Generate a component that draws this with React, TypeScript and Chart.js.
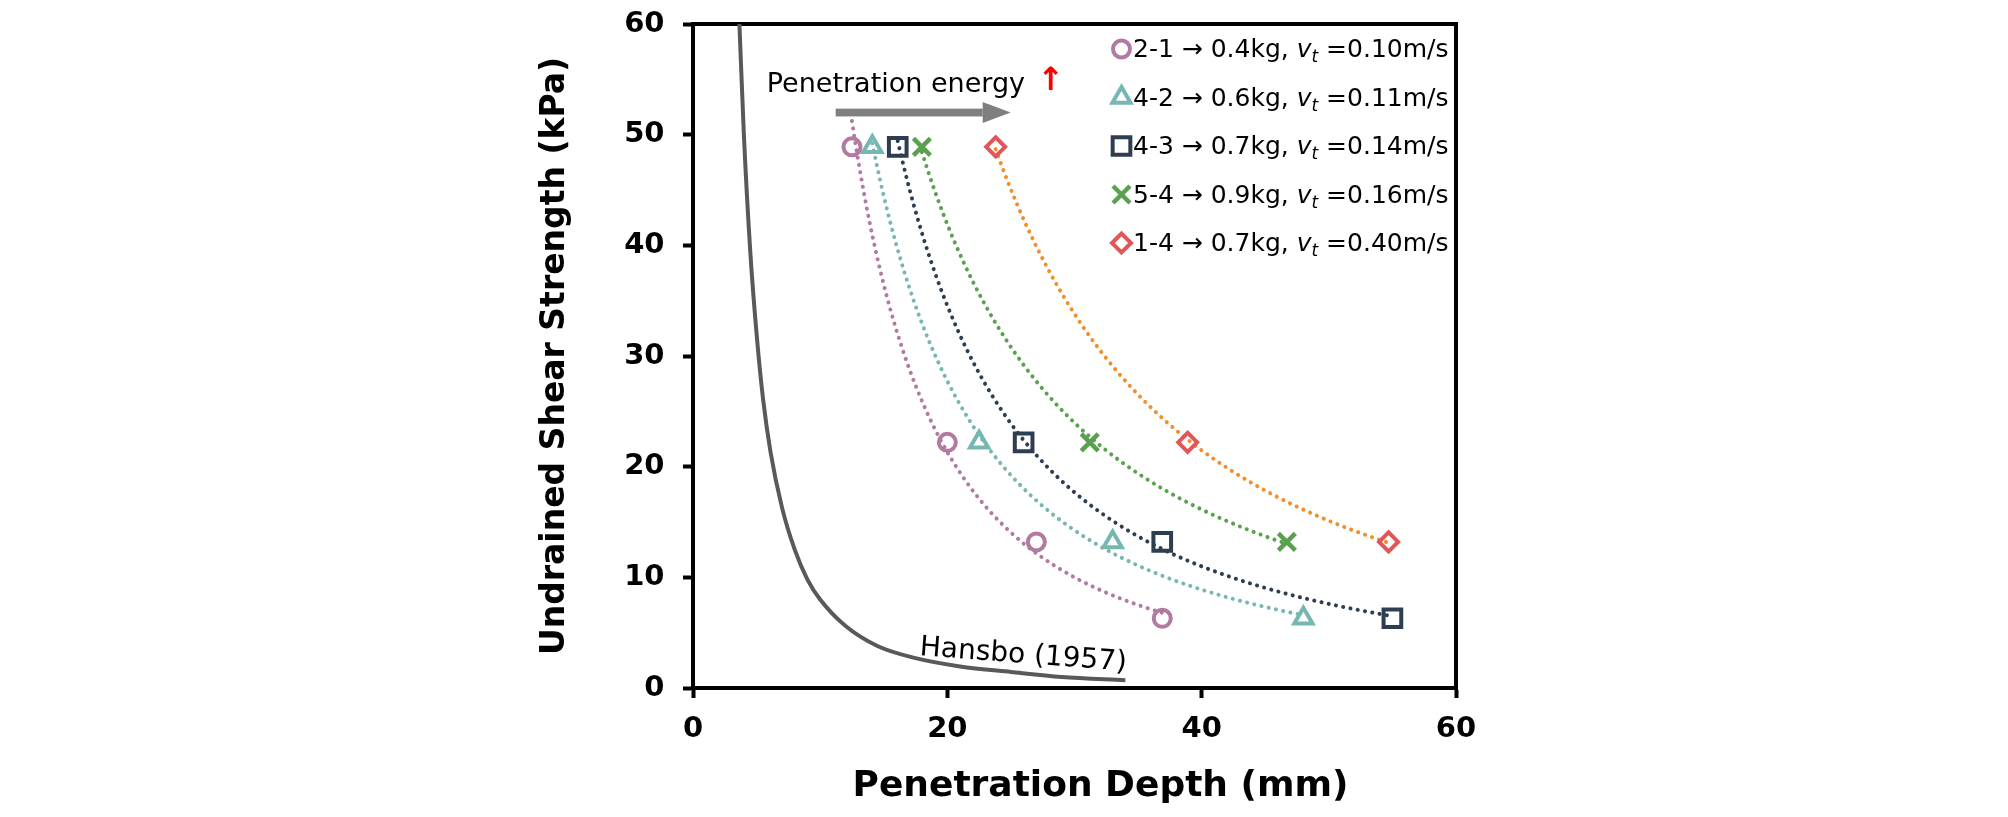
import React, { useEffect, useRef } from 'react';
import { Chart, registerables } from 'chart.js';
import { drawPoint } from 'chart.js/helpers';

Chart.register(...registerables);

// ---------- data ----------
const suLevels = [48.9, 22.2, 13.2, 6.3]; // undrained shear strength (kPa)
const depth21 = [12.5, 20.0, 27.0, 36.9]; // penetration depth (mm)
const depth42 = [14.1, 22.5, 33.0, 48.0];
const depth43 = [16.1, 26.0, 36.9, 55.0];
const depth54 = [18.0, 31.2, 46.7];
const depth14 = [23.8, 38.9, 54.7];

const hansboDepth = [3.65, 4.0, 4.5, 5.0, 5.5, 6.1, 7.0, 8.0, 9.0, 10.0, 12.0, 14.5, 17.5, 21.0, 25.0, 29.0, 34.0];
const hansboSu = [60, 50, 39.5, 32, 26.2, 21.3, 16.3, 12.5, 9.8, 8.0, 5.6, 3.8, 2.7, 1.95, 1.45, 1.0, 0.7];

const seriesNames = ['2-1', '4-2', '4-3', '5-4', '1-4'];
const seriesMass = ['0.4kg', '0.6kg', '0.7kg', '0.9kg', '0.7kg'];
const seriesVelocity = ['0.10m/s', '0.11m/s', '0.14m/s', '0.16m/s', '0.40m/s'];
const seriesDepths = [depth21, depth42, depth43, depth54, depth14];

const xTickValues = [0, 20, 40, 60];
const yTickValues = [0, 10, 20, 30, 40, 50, 60];

const xTitle = 'Penetration Depth (mm)';
const yTitle = 'Undrained Shear Strength (kPa)';
const energyLabel = 'Penetration energy';
const energyUp = '↑';
const hansboLabel = 'Hansbo (1957)';

// ---------- styles ----------
const seriesStyles = [
  { marker: 'circle', radius: 8.5, bw: 4, color: '#B07AA1', line: '#B07AA1' },
  { marker: 'triangle', radius: 10.5, bw: 4, color: '#76B7B2', line: '#76B7B2' },
  { marker: 'rect', radius: 12.5, bw: 4, color: '#2D3E50', line: '#2D3E50' },
  { marker: 'crossRot', radius: 12, bw: 4.5, color: '#59A14F', line: '#59A14F' },
  { marker: 'rectRot', radius: 9.5, bw: 4, color: '#E15759', line: '#F28E2B' },
];

const FONT = '"DejaVu Sans", "Liberation Sans", Arial, sans-serif';

// least-squares power trendline (as the spreadsheet trendline does) computed from the series arrays
function powerFit(xs: number[], ys: number[]) {
  const lx = xs.map((v) => Math.log(v));
  const ly = ys.map((v) => Math.log(v));
  const n = lx.length;
  const mx = lx.reduce((s, v) => s + v, 0) / n;
  const my = ly.reduce((s, v) => s + v, 0) / n;
  let sxy = 0;
  let sxx = 0;
  for (let i = 0; i < n; i++) {
    sxy += (lx[i] - mx) * (ly[i] - my);
    sxx += (lx[i] - mx) * (lx[i] - mx);
  }
  const b = sxy / sxx;
  const a = Math.exp(my - b * mx);
  return { a, b };
}

const annotationPlugin = {
  id: 'annotations',
  beforeDatasetsDraw(chart: any) {
    const { ctx, chartArea: a } = chart;
    const xs = chart.scales.x;
    const ys = chart.scales.y;
    ctx.save();
    // frame (top + right)
    ctx.strokeStyle = '#000';
    ctx.lineWidth = 4;
    ctx.lineCap = 'square';
    ctx.beginPath();
    ctx.moveTo(a.left, a.top);
    ctx.lineTo(a.right, a.top);
    ctx.lineTo(a.right, a.bottom);
    ctx.stroke();

    // dotted power trendlines
    ctx.beginPath();
    ctx.rect(a.left, a.top, a.right - a.left, a.bottom - a.top);
    ctx.clip();
    for (let k = 0; k < seriesDepths.length; k++) {
      const d = seriesDepths[k];
      const su = suLevels.slice(0, d.length);
      const { a: ca, b } = powerFit(d, su);
      const x0 = d[0];
      const x1 = d[d.length - 1];
      ctx.strokeStyle = seriesStyles[k].line;
      ctx.lineWidth = 4;
      ctx.lineCap = 'round';
      ctx.setLineDash([0.1, 7.3]);
      ctx.beginPath();
      const steps = 160;
      for (let i = 0; i <= steps; i++) {
        const xv = x0 + ((x1 - x0) * i) / steps;
        const px = xs.getPixelForValue(xv);
        const py = ys.getPixelForValue(ca * Math.pow(xv, b));
        if (i === 0) ctx.moveTo(px, py);
        else ctx.lineTo(px, py);
      }
      ctx.stroke();
    }
    ctx.restore();
  },
  afterDatasetsDraw(chart: any) {
    const { ctx, chartArea: a } = chart;
    const xs = chart.scales.x;
    const ys = chart.scales.y;
    ctx.save();

    // x axis title
    ctx.fillStyle = '#000';
    ctx.font = `bold 36px ${FONT}`;
    ctx.textAlign = 'center';
    ctx.textBaseline = 'alphabetic';
    ctx.fillText(xTitle, (a.left + a.right) / 2 + 26, a.bottom + 108);

    // Penetration energy label
    ctx.font = `27px ${FONT}`;
    ctx.textAlign = 'left';
    ctx.fillText(energyLabel, xs.getPixelForValue(5.8), ys.getPixelForValue(53.9));

    // red up arrow
    ctx.fillStyle = '#FF0000';
    ctx.font = `bold 32px ${FONT}`;
    ctx.textAlign = 'center';
    ctx.fillText(energyUp, xs.getPixelForValue(28.15), ys.getPixelForValue(54.0));

    // gray arrow
    const x0 = xs.getPixelForValue(11.22);
    const x1 = xs.getPixelForValue(24.98);
    const yA = ys.getPixelForValue(52.0);
    ctx.fillStyle = '#7F7F7F';
    ctx.fillRect(x0, yA - 3.9, x1 - 28 - x0, 7.8);
    ctx.beginPath();
    ctx.moveTo(x1 - 28, yA - 10.5);
    ctx.lineTo(x1, yA);
    ctx.lineTo(x1 - 28, yA + 10.5);
    ctx.closePath();
    ctx.fill();

    // Hansbo label
    ctx.save();
    ctx.translate(xs.getPixelForValue(17.8), ys.getPixelForValue(2.98));
    ctx.rotate((4.3 * Math.PI) / 180);
    ctx.fillStyle = '#000';
    ctx.font = `28px ${FONT}`;
    ctx.textAlign = 'left';
    ctx.textBaseline = 'alphabetic';
    ctx.fillText(hansboLabel, 0, 0);
    ctx.restore();

    // legend
    const mx = a.left + 428.5;
    const tx = a.left + 440;
    for (let i = 0; i < seriesNames.length; i++) {
      const s = seriesStyles[i];
      const base = a.top + 33.3 + 48.5 * i;
      ctx.strokeStyle = s.color;
      ctx.fillStyle = 'rgba(0,0,0,0)';
      ctx.lineWidth = s.bw;
      ctx.setLineDash([]);
      drawPoint(ctx, { pointStyle: s.marker, rotation: 0, radius: s.radius, borderWidth: s.bw } as any, mx, base - 8.3);

      ctx.fillStyle = '#000';
      ctx.textAlign = 'left';
      ctx.textBaseline = 'alphabetic';
      let x = tx;
      ctx.font = `25px ${FONT}`;
      const part1 = `${seriesNames[i]} → ${seriesMass[i]}, `;
      ctx.fillText(part1, x, base);
      x += ctx.measureText(part1).width;
      ctx.font = `italic 25px ${FONT}`;
      ctx.fillText('v', x, base);
      x += ctx.measureText('v').width;
      ctx.font = `italic 17px ${FONT}`;
      ctx.fillText('t', x, base + 5);
      x += ctx.measureText('t').width;
      ctx.font = `25px ${FONT}`;
      ctx.fillText(` =${seriesVelocity[i]}`, x, base);
    }
    ctx.restore();
  },
};

export default function App() {
  const canvasRef = useRef<HTMLCanvasElement | null>(null);

  useEffect(() => {
    if (!canvasRef.current) return;
    Chart.defaults.font.family = FONT;
    Chart.defaults.color = '#000';

    const datasets: any[] = [
      {
        label: hansboLabel,
        data: hansboDepth.map((x, i) => ({ x, y: hansboSu[i] })),
        showLine: true,
        borderColor: '#595959',
        borderWidth: 4,
        pointRadius: 0,
        pointHoverRadius: 0,
        cubicInterpolationMode: 'monotone',
        order: 10,
      },
      ...seriesNames.map((name, k) => {
        const s = seriesStyles[k];
        return {
          label: name,
          data: seriesDepths[k].map((x, i) => ({ x, y: suLevels[i] })),
          showLine: false,
          pointStyle: s.marker,
          pointRadius: s.radius,
          pointHoverRadius: s.radius,
          pointBorderColor: s.color,
          pointBackgroundColor: 'rgba(0,0,0,0)',
          pointBorderWidth: s.bw,
          pointHoverBorderWidth: s.bw,
          order: 5 - k,
        };
      }),
    ];

    const chart = new Chart(canvasRef.current, {
      type: 'scatter',
      data: { datasets },
      plugins: [annotationPlugin],
      options: {
        responsive: false,
        animation: false,
        events: [],
        layout: { padding: { left: 533, right: 552, top: 24, bottom: 10 } },
        plugins: {
          legend: { display: false },
          tooltip: { enabled: false },
        },
        scales: {
          x: {
            type: 'linear',
            min: 0,
            max: 60,
            afterBuildTicks: (scale: any) => {
              scale.ticks = xTickValues.map((v) => ({ value: v }));
            },
            afterFit: (scale: any) => {
              scale.height = 119;
              scale.paddingLeft = 0;
              scale.paddingRight = 0;
            },
            grid: {
              display: true,
              drawOnChartArea: false,
              drawTicks: true,
              tickLength: 10,
              tickWidth: 4,
              tickColor: '#000',
            },
            border: { display: true, color: '#000', width: 4 },
            ticks: {
              padding: 14,
              color: '#000',
              font: { size: 29, weight: 'bold', family: FONT },
              maxRotation: 0,
            },
            title: { display: false, text: xTitle },
          },
          y: {
            type: 'linear',
            min: 0,
            max: 60,
            afterBuildTicks: (scale: any) => {
              scale.ticks = yTickValues.map((v) => ({ value: v }));
            },
            afterFit: (scale: any) => {
              scale.width = 160;
              scale.paddingTop = 0;
              scale.paddingBottom = 0;
            },
            grid: {
              display: true,
              drawOnChartArea: false,
              drawTicks: true,
              tickLength: 10,
              tickWidth: 4,
              tickColor: '#000',
            },
            border: { display: true, color: '#000', width: 4 },
            ticks: {
              padding: 18.5,
              color: '#000',
              font: { size: 29, weight: 'bold', family: FONT },
            },
            title: {
              display: true,
              text: yTitle,
              color: '#000',
              font: { size: 33, weight: 'bold', family: FONT },
              padding: { top: 2.6, bottom: 0 },
            },
          },
        },
      } as any,
    });
    return () => chart.destroy();
  }, []);

  return (
    <div style={{ position: 'absolute', left: 0, top: 0, width: 2008, height: 817, background: '#fff' }}>
      <canvas ref={canvasRef} width={2008} height={817} style={{ width: 2008, height: 817, display: 'block' }} />
    </div>
  );
}
